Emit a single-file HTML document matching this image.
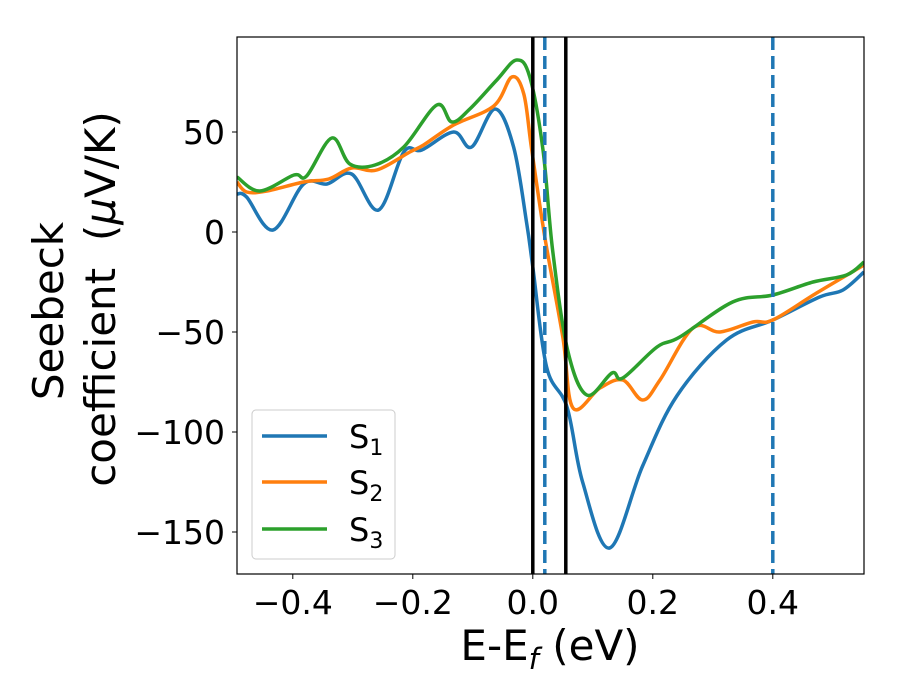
<!DOCTYPE html>
<html><head><meta charset="utf-8"><style>
body{margin:0;background:#fff;}
svg{display:block;font-family:"DejaVu Sans","Liberation Sans",sans-serif;}
</style></head><body>
<svg id="chart" width="900" height="700" viewBox="0 0 900 700">
<defs><clipPath id="clip"><rect x="237" y="37" width="627" height="537"/></clipPath></defs>
<rect x="0" y="0" width="900" height="700" fill="#fff"/>
<g id="series" clip-path="url(#clip)"></g>
<g id="vlines" clip-path="url(#clip)"></g>
<rect x="237" y="37" width="627" height="537" fill="none" stroke="#000" stroke-width="1.2"/>
<g id="xticks"></g>
<g id="yticks"></g>
<text x="550" y="660" font-size="42" text-anchor="middle">E-E<tspan font-style="italic" font-size="29" dy="9">f</tspan><tspan dy="-9"> (eV)</tspan></text>
<text transform="translate(63,311) rotate(-90)" font-size="42" text-anchor="middle">Seebeck</text>
<text transform="translate(115,299) rotate(-90)" font-size="42" text-anchor="middle" style="white-space:pre">coefficient  (<tspan font-style="italic">μ</tspan>V/K)</text>
<g>
<rect x="252" y="410" width="143" height="149" rx="4" fill="#fff" fill-opacity="0.8" stroke="#ccc" stroke-width="1"/>
<g><line x1="262" y1="436" x2="327" y2="436" stroke="#1f77b4" stroke-width="3.5"/><text x="349" y="448" font-size="32">S<tspan font-size="22" dy="7">1</tspan></text></g>
<g><line x1="262" y1="482" x2="327" y2="482" stroke="#ff7f0e" stroke-width="3.5"/><text x="349" y="494" font-size="32">S<tspan font-size="22" dy="7">2</tspan></text></g>
<g><line x1="262" y1="529" x2="327" y2="529" stroke="#2ca02c" stroke-width="3.5"/><text x="349" y="541" font-size="32">S<tspan font-size="22" dy="7">3</tspan></text></g>
</g>
</svg>
<script>
const s1x=[-0.493,-0.477,-0.433,-0.382,-0.343,-0.302,-0.257,-0.215,-0.185,-0.132,-0.102,-0.063,-0.032,-0.01,0,0.023,0.057,0.083,0.128,0.183,0.24,0.323,0.4,0.478,0.517,0.552];
const s1y=[19,17.5,1,24,24,29,11,40,41,50,42.5,61.5,42.5,4,-17.5,-67.5,-87.5,-125,-158,-117,-82,-54,-44,-32.5,-29,-20];
const s2x=[-0.493,-0.477,-0.443,-0.382,-0.34,-0.302,-0.26,-0.205,-0.182,-0.132,-0.065,-0.035,-0.015,-0.002,0.02,0.05,0.067,0.112,0.15,0.183,0.212,0.267,0.312,0.367,0.4,0.473,0.552];
const s2y=[25,20,20.5,25,26.5,32,31,40,43.5,53.5,63,77.5,69,41.5,-2.5,-52.5,-88,-78,-74,-84,-74,-48,-50,-45,-44,-30.5,-16.5];
const s3x=[-0.493,-0.455,-0.398,-0.377,-0.335,-0.305,-0.263,-0.215,-0.16,-0.135,-0.105,-0.06,-0.027,-0.005,0.017,0.033,0.058,0.09,0.132,0.15,0.207,0.245,0.333,0.4,0.467,0.523,0.552];
const s3y=[27.5,20.5,28.5,28,47,34,33.5,42.5,63.5,55,61.5,76,86,77.5,41,-9,-59,-81.5,-70.5,-73,-57.5,-52.5,-35,-31.5,-25,-21.5,-15];
const blackLines=[0,0.055];
const dashedLines=[0.02,0.4];
const xTicks=[-0.4,-0.2,0.0,0.2,0.4];
const xTickLabels=["\u22120.4","\u22120.2","0.0","0.2","0.4"];
const yTicks=[50,0,-50,-100,-150];
const yTickLabels=["50","0","\u221250","\u2212100","\u2212150"];
const X0=237,X1=864,Y0=37,Y1=574,xmin=-0.493,xmax=0.552,ymin=-171,ymax=97.5;
const sx=v=>X0+(v-xmin)/(xmax-xmin)*(X1-X0);
const sy=v=>Y1-(v-ymin)/(ymax-ymin)*(Y1-Y0);
const NS="http://www.w3.org/2000/svg";
function pathD(xs,ys){
  const p=xs.map((x,i)=>[sx(x),sy(ys[i])]);
  let d="M"+p[0][0]+","+p[0][1];
  for(let i=0;i<p.length-1;i++){
    const a=p[i-1]||p[i],b=p[i],c=p[i+1],e=p[i+2]||c;
    const t=0.17;
    d+=" C"+(b[0]+(c[0]-a[0])*t)+","+(b[1]+(c[1]-a[1])*t)+" "+(c[0]-(e[0]-b[0])*t)+","+(c[1]-(e[1]-b[1])*t)+" "+c[0]+","+c[1];
  }
  return d;
}
const g=document.getElementById("series");
[[s1x,s1y,"#1f77b4","series-s1"],[s2x,s2y,"#ff7f0e","series-s2"],[s3x,s3y,"#2ca02c","series-s3"]].forEach(s=>{
  const el=document.createElementNS(NS,"path");
  el.setAttribute("d",pathD(s[0],s[1]));
  el.setAttribute("fill","none");el.setAttribute("stroke",s[2]);el.setAttribute("stroke-width","3.5");
  
  
  g.appendChild(el);
});
const vg=document.getElementById("vlines");
blackLines.forEach(v=>{
  const l=document.createElementNS(NS,"line");
  l.setAttribute("x1",sx(v));l.setAttribute("x2",sx(v));l.setAttribute("y1",Y0);l.setAttribute("y2",Y1);
  l.setAttribute("stroke","#000");l.setAttribute("stroke-width","3.5");
  
  
  vg.appendChild(l);
});
dashedLines.forEach(v=>{
  const l=document.createElementNS(NS,"line");
  l.setAttribute("x1",sx(v));l.setAttribute("x2",sx(v));l.setAttribute("y1",Y0);l.setAttribute("y2",Y1);
  l.setAttribute("stroke","#1f77b4");l.setAttribute("stroke-width","3.5");l.setAttribute("stroke-dasharray","13,6");
  
  
  vg.appendChild(l);
});
const xg=document.getElementById("xticks");
xTicks.forEach((v,i)=>{
  const l=document.createElementNS(NS,"line");
  l.setAttribute("x1",sx(v));l.setAttribute("x2",sx(v));l.setAttribute("y1",Y1);l.setAttribute("y2",Y1+5);l.setAttribute("stroke","#000");
  
  
  xg.appendChild(l);
  const t=document.createElementNS(NS,"text");
  t.setAttribute("x",sx(v));t.setAttribute("y",Y1+40);t.setAttribute("font-size","33");t.setAttribute("text-anchor","middle");
  t.textContent=xTickLabels[i];
  
  
  xg.appendChild(t);
});
const yg=document.getElementById("yticks");
yTicks.forEach((v,i)=>{
  const l=document.createElementNS(NS,"line");
  l.setAttribute("x1",X0-5);l.setAttribute("x2",X0);l.setAttribute("y1",sy(v));l.setAttribute("y2",sy(v));l.setAttribute("stroke","#000");
  
  
  yg.appendChild(l);
  const t=document.createElementNS(NS,"text");
  t.setAttribute("x",X0-12);t.setAttribute("y",sy(v)+12);t.setAttribute("font-size","33");t.setAttribute("text-anchor","end");
  t.textContent=yTickLabels[i];
  
  
  yg.appendChild(t);
});
</script>
</body></html>
